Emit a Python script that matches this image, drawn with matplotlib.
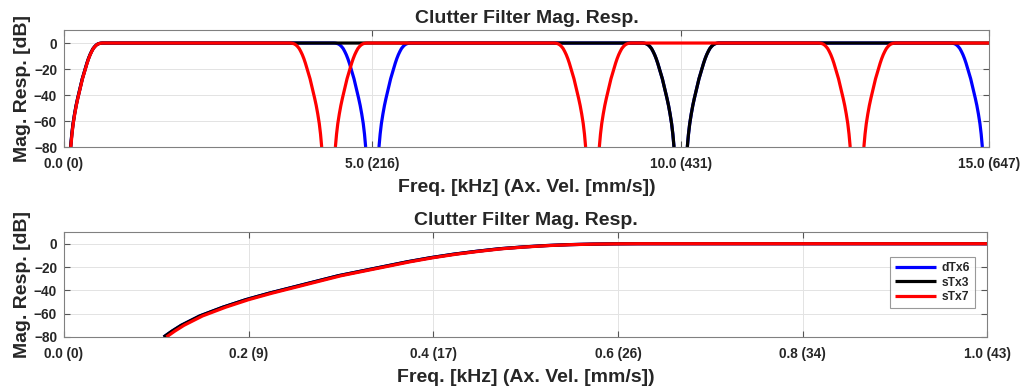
import numpy as np
import matplotlib
matplotlib.use("Agg")
import matplotlib.pyplot as plt

red_off = [0.111, 0.12, 0.13, 0.14, 0.15, 0.175, 0.20, 0.225, 0.25, 0.275, 0.30, 0.325,
           0.35, 0.375, 0.40, 0.425, 0.45, 0.475, 0.50, 0.525, 0.55, 0.575, 0.60, 0.625]
red_db = [-80, -75, -70, -66, -62, -54.5, -48, -42.5, -37.5, -32.5, -27.5, -23.5,
          -19.5, -15.5, -12, -9, -6.5, -4.3, -2.8, -1.6, -0.8, -0.35, -0.1, 0]
blk_off = [0.108, 0.117, 0.127, 0.137, 0.147, 0.172, 0.197, 0.222, 0.247, 0.272, 0.297, 0.322,
           0.347, 0.372, 0.397, 0.422, 0.447, 0.472, 0.497, 0.522, 0.547, 0.572, 0.597, 0.622]
blk_db = [-80, -75, -70, -66, -62, -54.5, -48, -42.5, -37.5, -32.5, -27.5, -23.5,
          -19.5, -15.5, -12, -9, -6.5, -4.3, -2.8, -1.6, -0.8, -0.35, -0.1, 0]

# notch centres [kHz]
dtx6_centres = [0.0, 5.0, 10.0, 15.0]
stx3_centres = [0.0, 10.0]
stx7_centres = [0.0, 4.29, 8.57, 12.86]

top_ticks = [0, 5, 10, 15]
top_labels = ["0.0 (0)", "5.0 (216)", "10.0 (431)", "15.0 (647)"]
bot_ticks = [0, 0.2, 0.4, 0.6, 0.8, 1.0]
bot_labels = ["0.0 (0)", "0.2 (9)", "0.4 (17)", "0.6 (26)", "0.8 (34)", "1.0 (43)"]


def build(centres, off, db, xmax):
    off = np.array(off)
    db = np.array(db, dtype=float)
    xs, ys = [], []
    for c in centres:
        xs += list(c - off[::-1]) + [np.nan] + list(c + off)
        ys += list(db[::-1]) + [np.nan] + list(db)
    xs.append(xmax)
    ys.append(0.0)
    return np.array(xs), np.array(ys)


plt.rcParams["font.family"] = ["Liberation Sans", "DejaVu Sans"]
plt.rcParams["font.weight"] = "bold"
txt = "#262626"

fig = plt.figure(figsize=(10.27, 3.9), dpi=100)
ax1 = fig.add_axes([0.0623, 0.623, 0.9007, 0.300])
ax2 = fig.add_axes([0.0623, 0.136, 0.899, 0.269])

series = [("dTx6", "#0000ff", dtx6_centres, blk_off, blk_db),
          ("sTx3", "#000000", stx3_centres, blk_off, blk_db),
          ("sTx7", "#ff0000", stx7_centres, red_off, red_db)]

for ax, xmax, ticks, labels in [(ax1, 15, top_ticks, top_labels),
                                 (ax2, 1.0, bot_ticks, bot_labels)]:
    for name, col, centres, off, db in series:
        x, y = build(centres, off, db, xmax)
        ax.plot(x, y, color=col, lw=2.3, label=name, solid_capstyle="butt")
    ax.set_xlim(0, xmax)
    ax.set_ylim(-80, 10)
    ax.set_yticks([0, -20, -40, -60, -80])
    ax.set_xticks(ticks)
    ax.set_xticklabels(labels)
    ax.tick_params(direction="in", length=4, width=0.8, color="#555555",
                   top=True, right=True, labelsize=9.8, labelcolor=txt)
    ax.tick_params(axis="x", pad=7)
    ax.tick_params(axis="y", pad=5)
    ax.grid(True, color="#e3e3e3", lw=0.7)
    ax.set_axisbelow(True)
    for s in ax.spines.values():
        s.set_color("#808080")
        s.set_linewidth(0.8)
    ax.set_title("Clutter Filter Mag. Resp.", fontsize=14, fontweight="bold", color=txt, pad=5)
    ax.set_xlabel("Freq. [kHz] (Ax. Vel. [mm/s])", fontsize=14, fontweight="bold", color=txt, labelpad=6)
    ax.set_ylabel("Mag. Resp. [dB]", fontsize=14, fontweight="bold", color=txt, labelpad=2)

leg = ax2.legend(loc="upper right", bbox_to_anchor=(0.987, 0.759), borderaxespad=0,
                 fancybox=False, edgecolor="#808080", fontsize=8.7, handlelength=3.4,
                 labelspacing=0.2, borderpad=0.4, handletextpad=0.5)
leg.get_frame().set_linewidth(0.8)
for t in leg.get_texts():
    t.set_color(txt)

fig.savefig("out.png", dpi=100)
